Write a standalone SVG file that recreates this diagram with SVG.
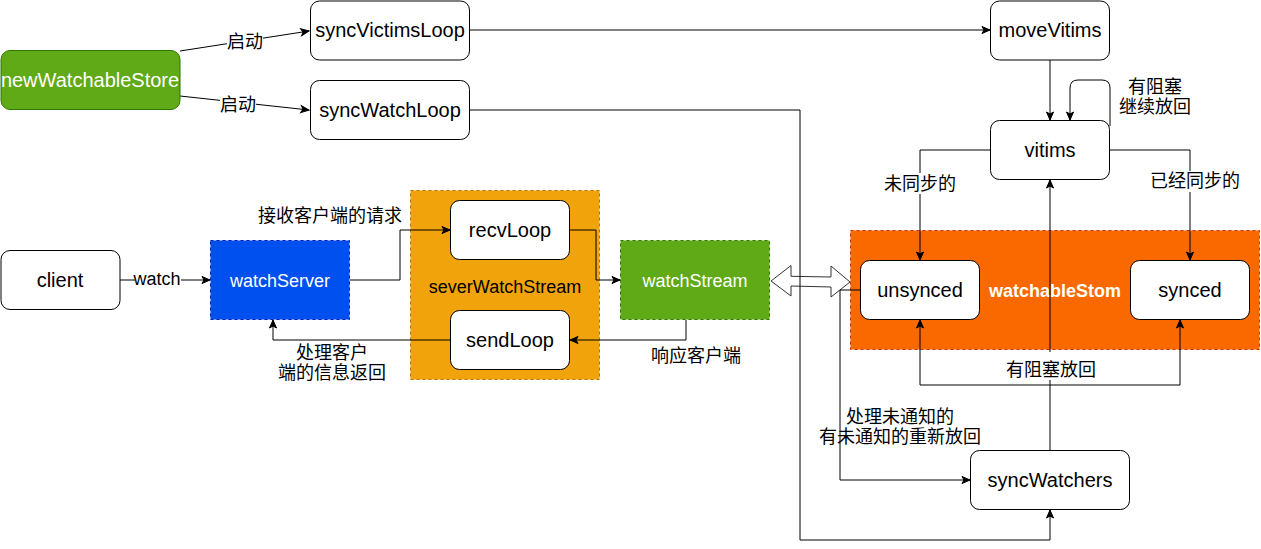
<svg xmlns="http://www.w3.org/2000/svg" width="1261" height="549" viewBox="0 0 1261 549">
<defs>
<marker id="arr" markerUnits="userSpaceOnUse" markerWidth="9" markerHeight="8" refX="8" refY="3.5" orient="auto" overflow="visible">
<path d="M0,0 L8,3.5 L0,7 L2,3.5 Z" fill="#000" stroke="#000" stroke-width="1"/>
</marker>
<style>
text{font-family:"Liberation Sans",Arial,"Noto Sans CJK SC",sans-serif;text-anchor:middle;fill:#000}
.n{font-size:20px}
.m{font-size:18px}
.w{fill:#fff}
.b{font-weight:bold}
.box{fill:#fff;stroke:#000;stroke-width:1}
.e{fill:none;stroke:#000;stroke-width:1;marker-end:url(#arr)}
.l{fill:none;stroke:#000;stroke-width:1}
.lb{font-size:18px}
.bg{fill:#fff}
</style>
</defs>
<rect width="1261" height="549" fill="#fff"/>

<g id="watchableStom">
<rect x="850.5" y="230.5" width="409" height="119" fill="#fa6800" stroke="#C73500" stroke-dasharray="3 3"/>
<text class="m w b" x="1055" y="296.5">watchableStom</text>
</g>
<g id="severWatchStream">
<rect x="410.5" y="190.5" width="189" height="189" fill="#f0a30a" stroke="#BD7000" stroke-dasharray="3 3"/>
<text class="m" x="505" y="292.5">severWatchStream</text>
</g>

<g id="connectors">
<polygon points="771,281 791,265.5 791,276.3 831,277 831,266 850,282 831,297 831,287 791,286 791,296" fill="#fff" stroke="#333" stroke-width="1"/>
<path class="e" d="M180,51 L309,31"/>
<path class="e" d="M180,96 L309,110"/>
<path class="e" d="M470,30 L990,30"/>
<path class="e" d="M470,110 L800,110 L800,540 L1050,540 L1050,510"/>
<path class="e" d="M1050,60 L1050,120"/>
<path class="e" d="M1110,126 L1110,88 Q1110,80 1102,80 L1078,80 Q1070,80 1070,88 L1070,120"/>
<path class="e" d="M990,150 L920,150 L920,260"/>
<path class="e" d="M1110,150 L1190,150 L1190,260"/>
<path class="e" d="M1050,450 L1050,180"/>
<path class="e" d="M1050,385 L920,385 L920,320"/>
<path class="e" d="M1050,385 L1180,385 L1180,320"/>
<path class="e" d="M860,290 L840,290 L840,480 L970,480"/>
<path class="e" d="M120,280 L210,280"/>
<path class="e" d="M350,280 L400,280 L400,230 L450,230"/>
<path class="e" d="M570,230 L596,230 L596,280 L620,280"/>
<path class="e" d="M686,320 L686,340 L570,340"/>
<path class="e" d="M450,340 L273,340 L273,320"/>

<rect class="bg" x="227" y="31" width="36" height="21"/>
<text class="lb" x="245" y="48">启动</text>
<rect class="bg" x="220" y="94" width="36" height="21"/>
<text class="lb" x="238" y="110.5">启动</text>
<rect class="bg" x="135" y="268" width="46" height="21"/>
<text class="lb" x="157" y="284.5">watch</text>
<text class="lb" x="330" y="221.5">接收客户端的请求</text>
<text class="lb" x="332" y="358.5">处理客户</text>
<text class="lb" x="332" y="378.5">端的信息返回</text>
<text class="lb" x="696" y="362">响应客户端</text>
<rect class="bg" x="884" y="173" width="72" height="21"/>
<text class="lb" x="920" y="189.5">未同步的</text>
<rect class="bg" x="1150" y="171" width="90" height="21"/>
<text class="lb" x="1195" y="186.5">已经同步的</text>
<text class="lb" x="1155" y="93">有阻塞</text>
<text class="lb" x="1155" y="113">继续放回</text>
<rect class="bg" x="1006" y="352" width="90" height="28"/>
<text class="lb" x="1051" y="375.5">有阻塞放回</text>
<text class="lb" x="900" y="422.5">处理未通知的</text>
<text class="lb" x="900" y="443">有未通知的重新放回</text>
</g>

<g id="newWatchableStore">
<rect x="1" y="50.5" width="179" height="59" rx="9" fill="#60a917" stroke="#2D7600"/>
<text class="n w" x="90" y="87">newWatchableStore</text>
</g>
<g id="syncVictimsLoop">
<rect class="box" x="310.5" y="1" width="159" height="59" rx="9"/>
<text class="n" x="390" y="37">syncVictimsLoop</text>
</g>
<g id="syncWatchLoop">
<rect class="box" x="310.5" y="80.5" width="159" height="59" rx="9"/>
<text class="n" x="390" y="117">syncWatchLoop</text>
</g>
<g id="moveVitims">
<rect class="box" x="990.5" y="1" width="119" height="59" rx="9"/>
<text class="n" x="1050" y="37">moveVitims</text>
</g>
<g id="vitims">
<rect class="box" x="990.5" y="120.5" width="119" height="59" rx="9"/>
<text class="n" x="1050" y="157">vitims</text>
</g>
<g id="client">
<rect class="box" x="1" y="250.5" width="119" height="59" rx="9"/>
<text class="n" x="60" y="287">client</text>
</g>
<g id="watchServer">
<rect x="210.5" y="240.5" width="139" height="79" fill="#0050ef" stroke="#001DBC" stroke-dasharray="3 3"/>
<text class="m w" x="280" y="286.5">watchServer</text>
</g>
<g id="recvLoop">
<rect class="box" x="450.5" y="200.5" width="119" height="59" rx="9"/>
<text class="n" x="510" y="237">recvLoop</text>
</g>
<g id="sendLoop">
<rect class="box" x="450.5" y="310.5" width="119" height="59" rx="9"/>
<text class="n" x="510" y="347">sendLoop</text>
</g>
<g id="watchStream">
<rect x="620.5" y="240.5" width="149" height="79" fill="#60a917" stroke="#2D7600" stroke-dasharray="3 3"/>
<text class="m w" x="695" y="286.5">watchStream</text>
</g>
<g id="unsynced">
<rect class="box" x="860.5" y="260.5" width="119" height="59" rx="9"/>
<text class="n" x="920" y="297">unsynced</text>
</g>
<g id="synced">
<rect class="box" x="1130.5" y="260.5" width="119" height="59" rx="9"/>
<text class="n" x="1190" y="297">synced</text>
</g>
<g id="syncWatchers">
<rect class="box" x="970.5" y="450.5" width="159" height="59" rx="9"/>
<text class="n" x="1050" y="487">syncWatchers</text>
</g>
</svg>
